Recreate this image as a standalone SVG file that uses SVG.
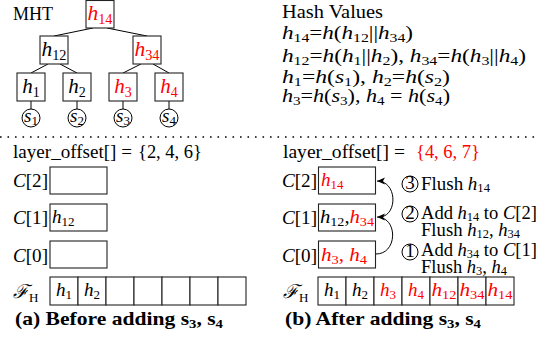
<svg xmlns="http://www.w3.org/2000/svg" width="538" height="339" viewBox="0 0 538 339">
<defs>
<style>
.t{font-family:"Liberation Serif","DejaVu Serif",serif;font-size:19px;fill:#000}
.i{font-style:italic}
.r{fill:#ff0000}
.s{font-size:13px;font-style:normal}
.b{font-weight:bold}
.nd{font-size:21px}
.nd .s{font-size:14px}
.an{font-size:18px}
.an .s{font-size:12px}
.box{fill:#fff;stroke:#222;stroke-width:1.1}
.ln{stroke:#000;stroke-width:1;fill:none}
.c{fill:#fff;stroke:#000;stroke-width:1}
</style>
<marker id="ah" markerWidth="9" markerHeight="8" refX="8" refY="4" orient="auto" markerUnits="userSpaceOnUse">
<path d="M0,0.5 L8,4 L0,7.5 L2,4 z" fill="#000"/>
</marker>
</defs>
<rect width="538" height="339" fill="#fff"/>

<g id="connectors">
<line class="ln" x1="93" y1="28" x2="54" y2="36"/>
<line class="ln" x1="107" y1="28" x2="147" y2="36"/>
<line class="ln" x1="48" y1="64" x2="31" y2="73"/>
<line class="ln" x1="60" y1="64" x2="77" y2="73"/>
<line class="ln" x1="141" y1="64" x2="123" y2="73"/>
<line class="ln" x1="153" y1="64" x2="169" y2="73"/>
<line class="ln" x1="31" y1="101" x2="31" y2="109"/>
<line class="ln" x1="77" y1="101" x2="77" y2="109"/>
<line class="ln" x1="123" y1="101" x2="123" y2="109"/>
<line class="ln" x1="169" y1="101" x2="169" y2="109"/>
<path class="ln" d="M376,254 C398,254 398,217 377,217" marker-end="url(#ah)"/>
<path class="ln" d="M381,217 C398,214 397,181 377,181" marker-end="url(#ah)"/>
</g>

<text class="t" x="13" y="20" font-size="18" textLength="40" lengthAdjust="spacingAndGlyphs">MHT</text>

<g id="n_h14"><rect class="box" x="86" y="0.5" width="28" height="27.5"/><text class="t nd r" x="87.5" y="20" textLength="25" lengthAdjust="spacingAndGlyphs"><tspan class="i">h</tspan><tspan class="s" dy="4">14</tspan></text></g>
<g id="n_h12"><rect class="box" x="40" y="36" width="28" height="28"/><text class="t nd" x="41.5" y="56" textLength="25" lengthAdjust="spacingAndGlyphs"><tspan class="i">h</tspan><tspan class="s" dy="4">12</tspan></text></g>
<g id="n_h34"><rect class="box" x="133" y="36" width="28" height="28"/><text class="t nd r" x="134.5" y="56" textLength="25" lengthAdjust="spacingAndGlyphs"><tspan class="i">h</tspan><tspan class="s" dy="4">34</tspan></text></g>
<g id="n_h1"><rect class="box" x="17" y="73" width="28" height="28"/><text class="t nd" x="31" y="93" text-anchor="middle"><tspan class="i">h</tspan><tspan class="s" dy="4">1</tspan></text></g>
<g id="n_h2"><rect class="box" x="63" y="73" width="28" height="28"/><text class="t nd" x="77" y="93" text-anchor="middle"><tspan class="i">h</tspan><tspan class="s" dy="4">2</tspan></text></g>
<g id="n_h3"><rect class="box" x="109" y="73" width="28" height="28"/><text class="t nd r" x="123" y="93" text-anchor="middle"><tspan class="i">h</tspan><tspan class="s" dy="4">3</tspan></text></g>
<g id="n_h4"><rect class="box" x="155" y="73" width="28" height="28"/><text class="t nd r" x="169" y="93" text-anchor="middle"><tspan class="i">h</tspan><tspan class="s" dy="4">4</tspan></text></g>
<g id="n_s1"><circle class="c" cx="31" cy="118" r="9"/><text class="t" x="31" y="122" text-anchor="middle" font-size="17"><tspan class="i">s</tspan><tspan class="s" dy="3" font-size="11">1</tspan></text></g>
<g id="n_s2"><circle class="c" cx="77" cy="118" r="9"/><text class="t" x="77" y="122" text-anchor="middle" font-size="17"><tspan class="i">s</tspan><tspan class="s" dy="3" font-size="11">2</tspan></text></g>
<g id="n_s3"><circle class="c" cx="123" cy="118" r="9"/><text class="t" x="123" y="122" text-anchor="middle" font-size="17"><tspan class="i">s</tspan><tspan class="s" dy="3" font-size="11">3</tspan></text></g>
<g id="n_s4"><circle class="c" cx="169" cy="118" r="9"/><text class="t" x="169" y="122" text-anchor="middle" font-size="17"><tspan class="i">s</tspan><tspan class="s" dy="3" font-size="11">4</tspan></text></g>

<g id="hash">
<text class="t" x="282" y="18" font-size="18" textLength="101" lengthAdjust="spacingAndGlyphs">Hash Values</text>
<text class="t" x="282" y="39" textLength="131" lengthAdjust="spacingAndGlyphs"><tspan class="i">h</tspan><tspan class="s" dy="3">14</tspan><tspan dy="-3">=</tspan><tspan class="i">h</tspan>(<tspan class="i">h</tspan><tspan class="s" dy="3">12</tspan><tspan dy="-3">||</tspan><tspan class="i">h</tspan><tspan class="s" dy="3">34</tspan><tspan dy="-3">)</tspan></text>
<text class="t" x="282" y="62" textLength="244" lengthAdjust="spacingAndGlyphs"><tspan class="i">h</tspan><tspan class="s" dy="3">12</tspan><tspan dy="-3">=</tspan><tspan class="i">h</tspan>(<tspan class="i">h</tspan><tspan class="s" dy="3">1</tspan><tspan dy="-3">||</tspan><tspan class="i">h</tspan><tspan class="s" dy="3">2</tspan><tspan dy="-3">), </tspan><tspan class="i">h</tspan><tspan class="s" dy="3">34</tspan><tspan dy="-3">=</tspan><tspan class="i">h</tspan>(<tspan class="i">h</tspan><tspan class="s" dy="3">3</tspan><tspan dy="-3">||</tspan><tspan class="i">h</tspan><tspan class="s" dy="3">4</tspan><tspan dy="-3">)</tspan></text>
<text class="t" x="282" y="83" textLength="168" lengthAdjust="spacingAndGlyphs"><tspan class="i">h</tspan><tspan class="s" dy="3">1</tspan><tspan dy="-3">=</tspan><tspan class="i">h</tspan>(<tspan class="i">s</tspan><tspan class="s" dy="3">1</tspan><tspan dy="-3">), </tspan><tspan class="i">h</tspan><tspan class="s" dy="3">2</tspan><tspan dy="-3">=</tspan><tspan class="i">h</tspan>(<tspan class="i">s</tspan><tspan class="s" dy="3">2</tspan><tspan dy="-3">)</tspan></text>
<text class="t" x="282" y="102" textLength="168" lengthAdjust="spacingAndGlyphs"><tspan class="i">h</tspan><tspan class="s" dy="3">3</tspan><tspan dy="-3">=</tspan><tspan class="i">h</tspan>(<tspan class="i">s</tspan><tspan class="s" dy="3">3</tspan><tspan dy="-3">), </tspan><tspan class="i">h</tspan><tspan class="s" dy="3">4</tspan><tspan dy="-3"> = </tspan><tspan class="i">h</tspan>(<tspan class="i">s</tspan><tspan class="s" dy="3">4</tspan><tspan dy="-3">)</tspan></text>
</g>

<line x1="0" y1="137" x2="538" y2="137" stroke="#000" stroke-width="1.6" stroke-dasharray="1.6 5.9"/>

<g id="left">
<text class="t" x="13" y="158" textLength="119" lengthAdjust="spacingAndGlyphs">layer_offset[] =</text>
<text class="t" x="138" y="158" textLength="64" lengthAdjust="spacingAndGlyphs">{2, 4, 6}</text>
<text class="t" x="13" y="187" font-size="20" textLength="35" lengthAdjust="spacingAndGlyphs"><tspan class="i">C</tspan>[2]</text>
<text class="t" x="13" y="224" font-size="20" textLength="35" lengthAdjust="spacingAndGlyphs"><tspan class="i">C</tspan>[1]</text>
<text class="t" x="13" y="262" font-size="20" textLength="35" lengthAdjust="spacingAndGlyphs"><tspan class="i">C</tspan>[0]</text>
<rect class="box" x="50" y="167" width="57" height="27"/>
<rect class="box" x="50" y="204" width="57" height="27"/>
<rect class="box" x="50" y="241" width="57" height="27"/>
<text class="t" x="52" y="223" font-size="20"><tspan class="i">h</tspan><tspan class="s" dy="3">12</tspan></text>
<text class="t" x="13" y="298" font-size="20"><tspan class="i">ℱ</tspan><tspan class="s i" dy="4">H</tspan></text>
<rect class="box" x="50" y="277" width="28" height="28"/><rect class="box" x="78" y="277" width="28" height="28"/><rect class="box" x="106" y="277" width="28" height="28"/><rect class="box" x="134" y="277" width="28" height="28"/><rect class="box" x="162" y="277" width="28" height="28"/><rect class="box" x="190" y="277" width="28" height="28"/><rect class="box" x="218" y="277" width="28" height="28"/>
<text class="t" x="64" y="296" text-anchor="middle" font-size="20"><tspan class="i">h</tspan><tspan class="s" dy="3">1</tspan></text>
<text class="t" x="92" y="296" text-anchor="middle" font-size="20"><tspan class="i">h</tspan><tspan class="s" dy="3">2</tspan></text>
<text class="t b" x="15" y="325" textLength="208" lengthAdjust="spacingAndGlyphs">(a) Before adding s<tspan class="s" dy="3" font-weight="bold">3</tspan><tspan dy="-3">, s</tspan><tspan class="s" dy="3" font-weight="bold">4</tspan></text>
</g>

<g id="right">
<text class="t" x="283" y="158" textLength="122" lengthAdjust="spacingAndGlyphs">layer_offset[] =</text>
<text class="t r" x="416" y="158" textLength="64" lengthAdjust="spacingAndGlyphs">{4, 6, 7}</text>
<text class="t" x="282" y="187" font-size="20" textLength="35" lengthAdjust="spacingAndGlyphs"><tspan class="i">C</tspan>[2]</text>
<text class="t" x="282" y="224" font-size="20" textLength="35" lengthAdjust="spacingAndGlyphs"><tspan class="i">C</tspan>[1]</text>
<text class="t" x="282" y="262" font-size="20" textLength="35" lengthAdjust="spacingAndGlyphs"><tspan class="i">C</tspan>[0]</text>
<rect class="box" x="318.5" y="167" width="57" height="27"/>
<rect class="box" x="318.5" y="204" width="57" height="27"/>
<rect class="box" x="318.5" y="241" width="57" height="27"/>
<text class="t r" x="321" y="186" font-size="21"><tspan class="i">h</tspan><tspan class="s" dy="3" font-size="14">14</tspan></text>
<text class="t" x="320" y="223" font-size="20" textLength="54" lengthAdjust="spacingAndGlyphs"><tspan class="i">h</tspan><tspan class="s" dy="3">12</tspan><tspan dy="-3">,</tspan><tspan class="i r">h</tspan><tspan class="s r" dy="3">34</tspan></text>
<text class="t r" x="321" y="261" font-size="21" textLength="46" lengthAdjust="spacingAndGlyphs"><tspan class="i">h</tspan><tspan class="s" dy="3" font-size="14">3</tspan><tspan dy="-3">, </tspan><tspan class="i">h</tspan><tspan class="s" dy="3" font-size="14">4</tspan></text>

<circle class="c" cx="410" cy="184" r="8"/><text class="t" x="410" y="189" text-anchor="middle" font-size="15">3</text>
<circle class="c" cx="410" cy="214" r="8"/><text class="t" x="410" y="219" text-anchor="middle" font-size="15">2</text>
<circle class="c" cx="410" cy="252" r="8"/><text class="t" x="410" y="257" text-anchor="middle" font-size="15">1</text>
<text class="t an" x="421" y="190" textLength="69" lengthAdjust="spacingAndGlyphs">Flush  <tspan class="i">h</tspan><tspan class="s" dy="2">14</tspan></text>
<text class="t an" x="421" y="219" textLength="116" lengthAdjust="spacingAndGlyphs">Add <tspan class="i">h</tspan><tspan class="s" dy="2">14</tspan><tspan dy="-2"> to </tspan><tspan class="i">C</tspan>[2]</text>
<text class="t an" x="421" y="236" textLength="99" lengthAdjust="spacingAndGlyphs">Flush  <tspan class="i">h</tspan><tspan class="s" dy="2">12</tspan><tspan dy="-2">, </tspan><tspan class="i">h</tspan><tspan class="s" dy="2">34</tspan></text>
<text class="t an" x="421" y="256" textLength="116" lengthAdjust="spacingAndGlyphs">Add <tspan class="i">h</tspan><tspan class="s" dy="2">34</tspan><tspan dy="-2"> to </tspan><tspan class="i">C</tspan>[1]</text>
<text class="t an" x="421" y="273" textLength="86" lengthAdjust="spacingAndGlyphs">Flush  <tspan class="i">h</tspan><tspan class="s" dy="2">3</tspan><tspan dy="-2">, </tspan><tspan class="i">h</tspan><tspan class="s" dy="2">4</tspan></text>

<text class="t" x="283" y="298" font-size="20"><tspan class="i">ℱ</tspan><tspan class="s i" dy="4">H</tspan></text>
<rect class="box" x="318" y="277" width="28" height="28"/><rect class="box" x="346" y="277" width="28" height="28"/><rect class="box" x="374" y="277" width="28" height="28"/><rect class="box" x="402" y="277" width="28" height="28"/><rect class="box" x="430" y="277" width="28" height="28"/><rect class="box" x="458" y="277" width="28" height="28"/><rect class="box" x="486" y="277" width="28" height="28"/>
<text class="t" x="332" y="296" text-anchor="middle" font-size="20"><tspan class="i">h</tspan><tspan class="s" dy="3">1</tspan></text>
<text class="t" x="360" y="296" text-anchor="middle" font-size="20"><tspan class="i">h</tspan><tspan class="s" dy="3">2</tspan></text>
<text class="t r" x="388" y="296" text-anchor="middle" font-size="20"><tspan class="i">h</tspan><tspan class="s" dy="3">3</tspan></text>
<text class="t r" x="416" y="296" text-anchor="middle" font-size="20"><tspan class="i">h</tspan><tspan class="s" dy="3">4</tspan></text>
<text class="t r" x="431.5" y="296" font-size="20" textLength="25" lengthAdjust="spacingAndGlyphs"><tspan class="i">h</tspan><tspan class="s" dy="3">12</tspan></text>
<text class="t r" x="459.5" y="296" font-size="20" textLength="25" lengthAdjust="spacingAndGlyphs"><tspan class="i">h</tspan><tspan class="s" dy="3">34</tspan></text>
<text class="t r" x="487.5" y="296" font-size="20" textLength="25" lengthAdjust="spacingAndGlyphs"><tspan class="i">h</tspan><tspan class="s" dy="3">14</tspan></text>
<text class="t b" x="285" y="325" textLength="196" lengthAdjust="spacingAndGlyphs">(b) After adding s<tspan class="s" dy="3" font-weight="bold">3</tspan><tspan dy="-3">, s</tspan><tspan class="s" dy="3" font-weight="bold">4</tspan></text>
</g>
</svg>
